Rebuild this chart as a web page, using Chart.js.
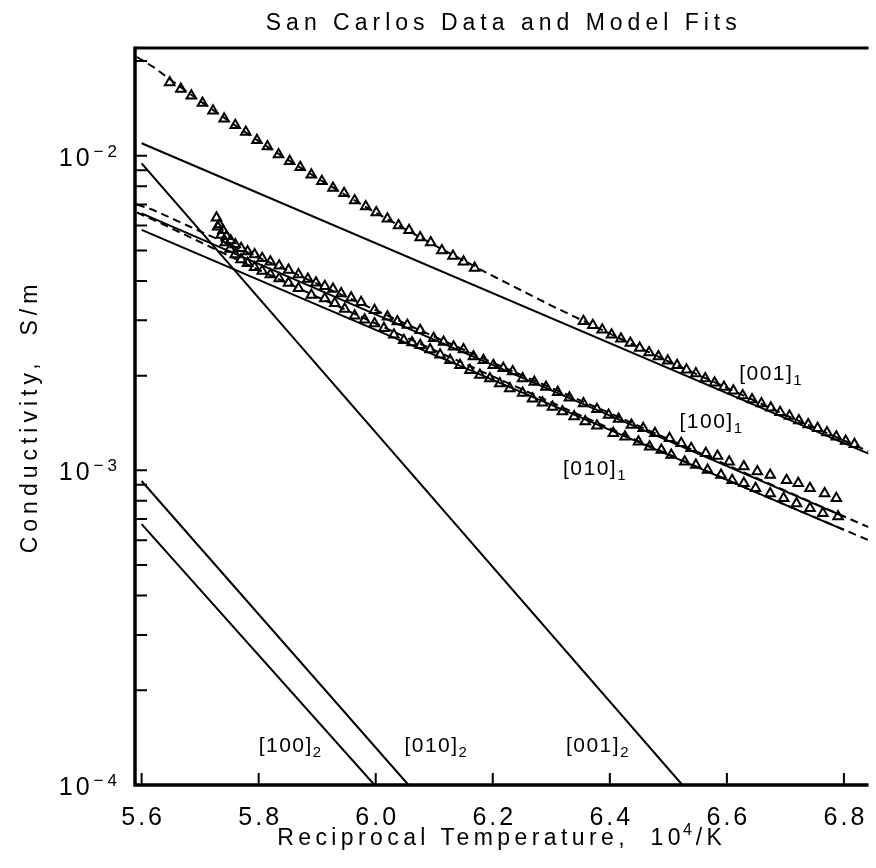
<!DOCTYPE html>
<html>
<head>
<meta charset="utf-8">
<script src="https://cdn.jsdelivr.net/npm/chart.js@4.4.0/dist/chart.umd.min.js"></script>
<style>
  html, body { margin: 0; padding: 0; background: #fff; }
  canvas { display: block; }
</style>
</head>
<body>
<canvas id="chart" width="876" height="868"></canvas>
<script>
// axis ranges and ticks
const xMin = 5.5887, xMax = 6.842;
const yMin = 1e-4, yMax = 0.022;
const xTicks = [5.6, 5.8, 6.0, 6.2, 6.4, 6.6, 6.8];
const yDecades = [1e-4, 1e-3, 1e-2];
const yDecadeExp = ['\u22124', '\u22123', '\u22122'];
const yMinorSteps = [1, 2, 3, 4, 5, 6, 7, 8, 9];

// measured data, [001] (triangles)
const d001X = [5.648, 5.667, 5.685, 5.704, 5.722, 5.741, 5.760, 5.778, 5.797, 5.815, 5.834, 5.853, 5.871, 5.890, 5.908,
  5.927, 5.946, 5.964, 5.983, 6.001, 6.020, 6.039, 6.057, 6.076, 6.094, 6.113, 6.132, 6.150, 6.169,
  6.355, 6.371, 6.387, 6.403, 6.419, 6.435, 6.451, 6.467, 6.483, 6.499, 6.515, 6.531, 6.547, 6.563, 6.579,
  6.595, 6.611, 6.627, 6.643, 6.659, 6.675, 6.691, 6.707, 6.723, 6.739, 6.755, 6.771, 6.787, 6.803, 6.818];
const d001Y = [0.0171, 0.0163, 0.0155, 0.0147, 0.0139, 0.0131, 0.0125, 0.0119, 0.0112, 0.0107, 0.0101, 0.0096, 0.0092, 0.0087, 0.0083,
  0.0079, 0.0076, 0.0072, 0.0069, 0.0066, 0.0063, 0.0060, 0.0058, 0.0055, 0.0053, 0.0050, 0.0048, 0.0046, 0.0044,
  0.00298, 0.00289, 0.00280, 0.00270, 0.00262, 0.00254, 0.00245, 0.00237, 0.00230, 0.00223, 0.00216, 0.00209, 0.00203, 0.00196, 0.00190,
  0.00184, 0.00179, 0.00173, 0.00168, 0.00163, 0.00158, 0.00153, 0.00149, 0.00144, 0.00140, 0.00136, 0.00132, 0.00128, 0.00124, 0.00121];

// measured data, [100]
const d100X = [5.728, 5.733, 5.739, 5.745, 5.752, 5.760, 5.770, 5.781, 5.793, 5.806, 5.820, 5.835, 5.851, 5.868, 5.884,
  5.898, 5.913, 5.927, 5.941, 5.958, 5.975, 5.998, 6.020, 6.037, 6.054, 6.076, 6.099, 6.116, 6.133, 6.150,
  6.167, 6.184, 6.201, 6.218, 6.234, 6.251, 6.271, 6.291, 6.311, 6.331, 6.355, 6.378, 6.398, 6.415, 6.437,
  6.457, 6.477, 6.502, 6.522, 6.539, 6.564, 6.584, 6.604, 6.629, 6.652, 6.674, 6.702, 6.722, 6.742, 6.767, 6.787];
const d100Y = [0.00635, 0.00605, 0.00580, 0.00555, 0.00538, 0.00522, 0.00508, 0.00496, 0.00485, 0.00472, 0.00460, 0.00447, 0.00433, 0.00419, 0.00406,
  0.00395, 0.00385, 0.00377, 0.00365, 0.00354, 0.00342, 0.00323, 0.00308, 0.00297, 0.00290, 0.00279, 0.00263, 0.00256, 0.00247, 0.00242,
  0.00230, 0.00224, 0.00216, 0.00211, 0.00206, 0.00196, 0.00191, 0.00184, 0.00177, 0.00170, 0.00163, 0.001563, 0.00150, 0.001456, 0.001393,
  0.001361, 0.001312, 0.001265, 0.00122, 0.001176, 0.001134, 0.001111, 0.001066, 0.001028, 0.000991, 0.000967, 0.000931, 0.00091, 0.000877, 0.000845, 0.000815];

// measured data, [010]
const d010X = [5.730, 5.736, 5.743, 5.751, 5.760, 5.770, 5.781, 5.793, 5.806, 5.820, 5.835, 5.851, 5.868, 5.890, 5.913,
  5.930, 5.947, 5.964, 5.981, 5.998, 6.014, 6.031, 6.048, 6.062, 6.076, 6.093, 6.110, 6.127, 6.144, 6.161,
  6.178, 6.195, 6.212, 6.229, 6.251, 6.268, 6.285, 6.302, 6.319, 6.339, 6.358, 6.378, 6.406, 6.426, 6.449,
  6.468, 6.488, 6.505, 6.528, 6.547, 6.567, 6.590, 6.609, 6.629, 6.649, 6.674, 6.697, 6.719, 6.742, 6.764, 6.790];
const d010Y = [0.00595, 0.00560, 0.00530, 0.00505, 0.00485, 0.00468, 0.00455, 0.00442, 0.00430, 0.00419, 0.00407, 0.00394, 0.00379, 0.00361, 0.00352,
  0.00340, 0.00326, 0.00310, 0.00301, 0.00293, 0.00283, 0.00270, 0.00259, 0.00255, 0.00250, 0.00242, 0.00233, 0.00224, 0.00216, 0.00208,
  0.00201, 0.00196, 0.00189, 0.00182, 0.00176, 0.00169, 0.00164, 0.00159, 0.001538, 0.001483, 0.001429, 0.001385, 0.001312, 0.00128, 0.001233,
  0.001188, 0.001161, 0.001119, 0.001066, 0.00104, 0.001002, 0.000967, 0.000931, 0.00091, 0.000877, 0.000845, 0.000815, 0.000785, 0.000758, 0.000731, 0.000713];

// model fits: single mechanisms (solid)
const fit001a = { x: [5.6, 6.842], y: [0.01096, 0.00113] };
const fit001b = { x: [5.6, 6.524], y: [0.00946, 0.0001] };
const fit100a = { x: [5.6, 6.8], y: [0.00656, 0.000713] };
const fit010a = { x: [5.6, 6.8], y: [0.00581, 0.000647] };
const fit100b = { x: [5.6, 5.998], y: [0.000675, 0.0001] };
const fit010b = { x: [5.6, 6.056], y: [0.000925, 0.0001] };

// model fits: total (dashed)
const sum001X = [5.592, 5.62, 5.65, 5.70, 5.75, 5.80, 5.85, 5.90, 5.95, 6.0, 6.1, 6.2, 6.3, 6.4, 6.5, 6.6, 6.7, 6.842];
const sum001Y = [0.0206, 0.01915, 0.0174, 0.01491, 0.01285, 0.01113, 0.0097, 0.00849, 0.00747, 0.00659, 0.0052, 0.00415, 0.00334, 0.00272, 0.00222, 0.00183, 0.0015, 0.00115];
const sumX = [5.592, 5.62, 5.65, 5.68, 5.71, 5.75, 5.80, 5.85, 5.90, 6.0, 6.1, 6.2, 6.4, 6.6, 6.842];
const sum100Y = [0.0070, 0.00672, 0.00634, 0.00598, 0.00564, 0.00523, 0.00475, 0.00432, 0.00392, 0.00323, 0.00266, 0.0022, 0.00152, 0.00104, 0.00066];
const sum010Y = [0.0066, 0.00626, 0.00589, 0.00554, 0.00521, 0.0048, 0.00434, 0.00393, 0.00356, 0.00293, 0.00241, 0.00199, 0.00136, 0.000933, 0.0006];

// curve labels
const labelMain = ['[001]', '[100]', '[010]', '[100]', '[010]', '[001]'];
const labelSub = ['1', '1', '1', '2', '2', '2'];
const labelX = [6.621, 6.519, 6.320, 5.800, 6.049, 6.325];
const labelY = [0.00194, 0.001365, 0.000966, 0.000127, 0.000127, 0.000127];

const FONT = '"Liberation Sans", Arial, sans-serif';

function pts(xs, ys) {
    return xs.map((x, i) => ({ x: x, y: ys[i] }));
}

function solid(fit) {
    return {
        data: pts(fit.x, fit.y), showLine: true, pointRadius: 0,
        borderColor: '#000', borderWidth: 2, fill: false, order: 2
    };
}

function dashed(xs, ys) {
    return {
        data: pts(xs, ys), showLine: true, pointRadius: 0,
        borderColor: '#000', borderWidth: 2, borderDash: [8, 5], fill: false, order: 2
    };
}

function triangles(xs, ys) {
    return {
        data: pts(xs, ys), showLine: false, pointStyle: 'triangle',
        pointRadius: 5.5, pointBorderWidth: 2, pointBorderColor: '#000',
        pointBackgroundColor: 'rgba(0,0,0,0)', order: 1
    };
}

function text(ctx, s, x, y, size, align, spacing) {
    ctx.font = size + 'px ' + FONT;
    ctx.letterSpacing = spacing + 'px';
    ctx.textAlign = align;
    ctx.fillText(s, x, y);
}

function width(ctx, s, size, spacing) {
    ctx.font = size + 'px ' + FONT;
    ctx.letterSpacing = spacing + 'px';
    return ctx.measureText(s).width;
}

// frame, inward ticks and all the text
const framePlugin = {
    id: 'frame',
    afterDatasetsDraw(chart) {
        const { ctx, chartArea: a, scales: { x, y } } = chart;
        ctx.save();
        ctx.strokeStyle = '#000';
        ctx.fillStyle = '#000';
        ctx.lineCap = 'butt';

        ctx.lineWidth = 3.5;
        ctx.beginPath();
        ctx.moveTo(a.left, a.top - 1.5);
        ctx.lineTo(a.left, a.bottom);
        ctx.lineTo(a.right, a.bottom);
        ctx.stroke();
        ctx.lineWidth = 3;
        ctx.beginPath();
        ctx.moveTo(a.left, a.top);
        ctx.lineTo(a.right, a.top);
        ctx.stroke();

        // ticks
        ctx.lineWidth = 2;
        ctx.beginPath();
        xTicks.forEach(v => {
            const px = x.getPixelForValue(v);
            ctx.moveTo(px, a.bottom);
            ctx.lineTo(px, a.bottom - 12);
        });
        yDecades.forEach(d => {
            yMinorSteps.forEach(m => {
                const v = d * m;
                if (v < yMin || v > yMax) return;
                const py = y.getPixelForValue(v);
                ctx.moveTo(a.left, py);
                ctx.lineTo(a.left + 12, py);
            });
        });
        ctx.stroke();

        ctx.textBaseline = 'alphabetic';

        // x tick labels
        xTicks.forEach(v => {
            text(ctx, v.toFixed(1), x.getPixelForValue(v) + 1.5, a.bottom + 40, 25, 'center', 3);
        });

        // y tick labels 10^n
        yDecades.forEach((d, i) => {
            const py = y.getPixelForValue(d);
            const ws = width(ctx, yDecadeExp[i], 17, 4);
            text(ctx, yDecadeExp[i], 121, py + 1, 17, 'right', 4);
            text(ctx, '10', 121 - ws - 1, py + 10, 25, 'right', 3);
        });

        // title
        text(ctx, 'San Carlos Data and Model Fits', (a.left + a.right) / 2 + 2, 30, 23, 'center', 5);

        // x axis title with superscript
        const p1 = 'Reciprocal Temperature,  10', p2 = '4', p3 = '/K';
        const w1 = width(ctx, p1, 23, 4.4), w2 = width(ctx, p2, 16, 2), w3 = width(ctx, p3, 23, 4.4);
        let sx = (a.left + a.right) / 2 - (w1 + w2 + w3) / 2;
        text(ctx, p1, sx, 845, 23, 'left', 4.4);
        text(ctx, p2, sx + w1 - 2, 835, 16, 'left', 2);
        text(ctx, p3, sx + w1 + w2, 845, 23, 'left', 4.4);

        // y axis title
        ctx.save();
        ctx.translate(37, (a.top + a.bottom) / 2);
        ctx.rotate(-Math.PI / 2);
        text(ctx, 'Conductivity,  S/m', 0, 0, 23, 'center', 5);
        ctx.restore();

        // curve labels with subscripts
        labelMain.forEach((s, i) => {
            const lx = x.getPixelForValue(labelX[i]);
            const ly = y.getPixelForValue(labelY[i]);
            const wm = width(ctx, s, 21, 1.5);
            text(ctx, s, lx, ly, 21, 'left', 1.5);
            text(ctx, labelSub[i], lx + wm, ly + 5, 15, 'left', 0);
        });

        ctx.restore();
    }
};

new Chart(document.getElementById('chart'), {
    type: 'scatter',
    data: {
        datasets: [
            solid(fit001a), solid(fit001b), solid(fit100a), solid(fit010a), solid(fit100b), solid(fit010b),
            dashed(sum001X, sum001Y), dashed(sumX, sum100Y), dashed(sumX, sum010Y),
            triangles(d001X, d001Y), triangles(d100X, d100Y), triangles(d010X, d010Y)
        ]
    },
    options: {
        responsive: false,
        devicePixelRatio: 1,
        animation: false,
        events: [],
        layout: { padding: { left: 135, right: 0, top: 48, bottom: 83 } },
        plugins: { legend: { display: false }, tooltip: { enabled: false }, title: { display: false } },
        scales: {
            x: { type: 'linear', min: xMin, max: xMax, display: false },
            y: { type: 'logarithmic', min: yMin, max: yMax, display: false }
        }
    },
    plugins: [framePlugin]
});
</script>
</body>
</html>
